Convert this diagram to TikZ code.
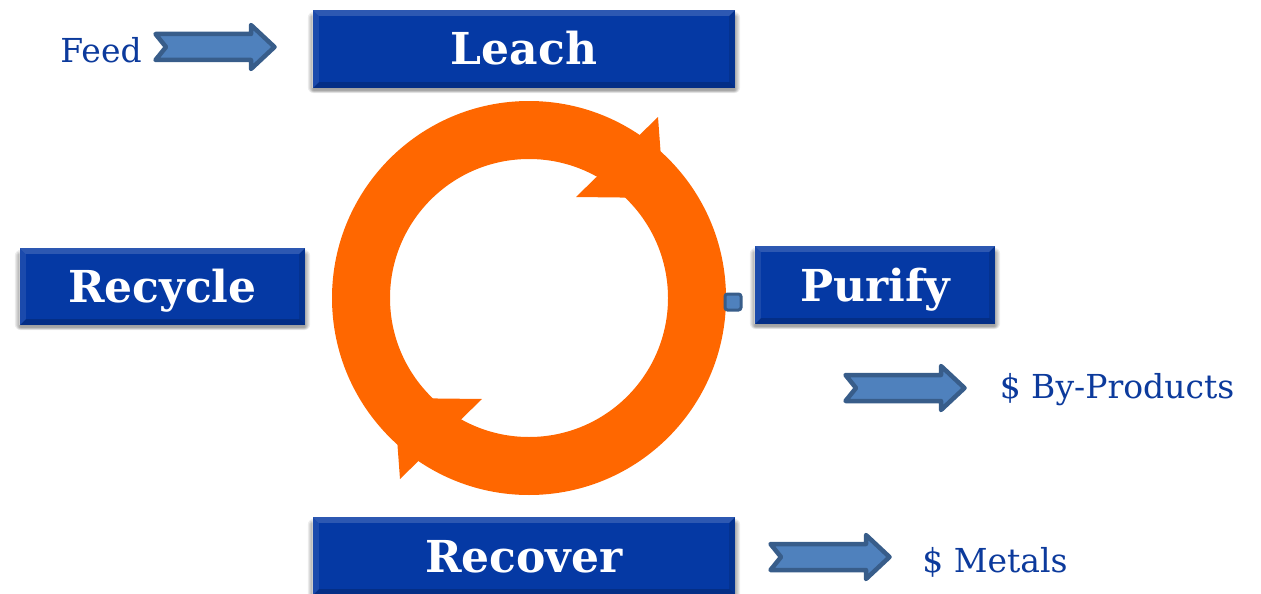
\documentclass[tikz,border=0pt]{standalone}
\usepackage{fontspec}
\setmainfont{DejaVu Serif}
\definecolor{boxblue}{RGB}{5,57,164}
\definecolor{txtblue}{RGB}{12,58,156}
\definecolor{ringorange}{RGB}{255,103,0}
\definecolor{arrowfill}{RGB}{79,129,189}
\definecolor{arrowedge}{RGB}{56,93,138}
\pgfdeclarelayer{bg}
\pgfsetlayers{bg,main}
\tikzset{
  procbox/.style={fill=boxblue, text=white, inner sep=0pt,
    text height=32pt, text depth=0pt,
    font=\bfseries\fontsize{44}{44}\selectfont},
  label/.style={text=txtblue, inner sep=0pt, font=\fontsize{33}{33}\selectfont},
  fat/.style={fill=arrowfill, draw=arrowedge, line width=4.5pt, line join=round},
  fatarrow/.pic={\path[fat] (2.5,-13) -- (98,-13) -- (98,-22) -- (121.5,0) -- (98,22) -- (98,13) -- (2.5,13) -- (13,0) -- cycle;}
}
\newcommand{\bevel}[1]{%
  \fill[white,opacity=0.16] (#1.north west) -- (#1.north east) -- ([xshift=-6pt,yshift=-6pt]#1.north east) -- ([xshift=6pt,yshift=-6pt]#1.north west) -- cycle;
  \fill[white,opacity=0.09] (#1.north west) -- (#1.south west) -- ([xshift=6pt,yshift=6pt]#1.south west) -- ([xshift=6pt,yshift=-6pt]#1.north west) -- cycle;
  \fill[black,opacity=0.18] (#1.south west) -- (#1.south east) -- ([xshift=-6pt,yshift=6pt]#1.south east) -- ([xshift=6pt,yshift=6pt]#1.south west) -- cycle;
  \fill[black,opacity=0.12] (#1.north east) -- (#1.south east) -- ([xshift=-6pt,yshift=6pt]#1.south east) -- ([xshift=-6pt,yshift=-6pt]#1.north east) -- cycle;
  \draw[white,opacity=0.35,line width=0.8pt] (#1.south west) -- (#1.north west) -- (#1.north east);
  \begin{pgfonlayer}{bg}
    \foreach \s in {1,2,3,4,5,6} {
      \fill[black,opacity=0.07,rounded corners=\s pt]
        ([xshift=-\s pt+1pt,yshift=-2pt-0.5*\s pt]#1.south west) rectangle ([xshift=\s pt-1pt,yshift=-8pt+\s pt]#1.north east);
    }
  \end{pgfonlayer}
}
\begin{document}
\begin{tikzpicture}[x=1pt,y=-1pt]
\useasboundingbox (0,0) rectangle (1261,594);
% ring
\coordinate (c) at (529,298);
\fill[ringorange, even odd rule] (c) circle (197pt) (c) circle (139pt);
\fill[ringorange] (658,117) -- (576,197) -- (664,198) -- cycle;
\fill[ringorange] (400,479) -- (482,399) -- (394,398) -- cycle;
% boxes
\node[procbox, minimum width=422pt, minimum height=78pt] (leach) at (524,49) {Leach};
\bevel{leach}
\node[procbox, minimum width=285pt, minimum height=77pt] (recycle) at (162.5,286.5) {Recycle};
\bevel{recycle}
\node[procbox, minimum width=240pt, minimum height=78pt] (purify) at (875,285) {Purify};
\bevel{purify}
\node[procbox, minimum width=422pt, minimum height=78pt] (recover) at (524,556) {Recover};
\bevel{recover}
% small square
\node[draw=arrowedge, fill=arrowfill, line width=3pt, rounded corners=2.5pt, minimum size=16pt, inner sep=0pt] (sq) at (733,302) {};
% fat arrows
\pic at (153,47) {fatarrow};
\pic at (843,388) {fatarrow};
\pic at (768,557) {fatarrow};
% labels
\node[label] (feed) at (101,50) {Feed};
\node[label] (byp) at (1117,390) {\$ By-Products};
\node[label] (met) at (995,562) {\$ Metals};
\end{tikzpicture}
\end{document}
